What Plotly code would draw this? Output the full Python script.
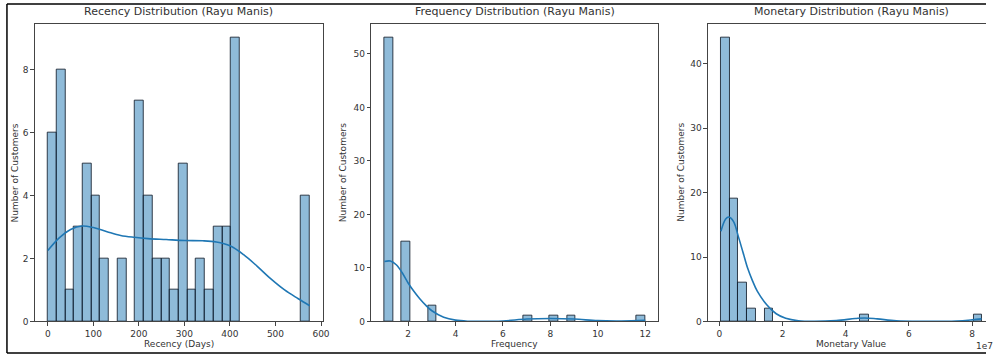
import numpy as np
import plotly.graph_objects as go

# ---------------- data ----------------
recency_range = (0, 575)
recency_counts = [6, 8, 1, 3, 5, 4, 2, 0, 2, 0, 7, 4, 2, 2, 1, 5, 1, 2, 1, 3, 3, 9,
                  0, 0, 0, 0, 0, 0, 0, 4]
recency_kde_x = [0, 25, 50, 75, 100, 130, 160, 190, 220, 260, 300, 340, 370, 400,
                 430, 460, 490, 520, 550, 575]
recency_kde_y = [2.25, 2.65, 2.92, 3.03, 2.98, 2.85, 2.73, 2.67, 2.63, 2.6, 2.57, 2.56,
                 2.52, 2.4, 2.12, 1.75, 1.35, 1.0, 0.72, 0.5]

frequency_range = (1, 12)
frequency_counts = [53, 0, 15, 0, 0, 3, 0, 0, 0, 0, 0, 0, 0, 0, 0, 0, 1, 0, 0, 1,
                    0, 1, 0, 0, 0, 0, 0, 0, 0, 1]
frequency_kde_x = [1, 1.25, 1.5, 1.75, 2, 2.25, 2.5, 2.75, 3, 3.5, 4, 4.5, 5, 6, 7,
                   8, 9, 10, 11, 12]
frequency_kde_y = [11.2, 11.3, 10.6, 9.1, 7.2, 5.6, 4.2, 3.0, 2.0, 0.8, 0.25, 0.05,
                   0.02, 0.1, 0.45, 0.55, 0.45, 0.15, 0.1, 0.2]

monetary_range = (0.05, 8.32)
monetary_counts = [44, 19, 6, 2, 0, 2, 0, 0, 0, 0, 0, 0, 0, 0, 0, 0, 1, 0, 0, 0,
                   0, 0, 0, 0, 0, 0, 0, 0, 0, 1]
monetary_kde_x = [0.05, 0.2, 0.3, 0.45, 0.6, 0.75, 0.9, 1.05, 1.2, 1.5, 1.8, 2.1, 2.5,
                  3, 3.7, 4.3, 4.6, 5, 5.6, 6.5, 7.5, 8, 8.3]
monetary_kde_y = [14.0, 15.9, 16.2, 15.5, 13.2, 10.7, 8.2, 6.3, 4.7, 2.6, 1.2, 0.5,
                  0.12, 0.03, 0.15, 0.45, 0.55, 0.4, 0.1, 0.03, 0.08, 0.25, 0.4]

titles = ["Recency Distribution (Rayu Manis)", "Frequency Distribution (Rayu Manis)",
          "Monetary Distribution (Rayu Manis)"]
xlabels = ["Recency (Days)", "Frequency", "Monetary Value"]
ylabel = "Number of Customers"

# ---------------- layout geometry ----------------
W, H = 993, 360
panels_px = [(35, 325), (374, 663), (713, 993)]
top_px, bot_px = 24, 326
ydom = [1 - bot_px / H, 1 - top_px / H]

BAR_FILL = "rgba(31,119,180,0.5)"
BAR_EDGE = "rgba(20,30,45,0.85)"
LINE_C = "#1f77b4"
FONT = "DejaVu Sans"
TXT = "#333333"
AX = "#444444"

fig = go.Figure()

datasets = [
    (recency_range, recency_counts, recency_kde_x, recency_kde_y),
    (frequency_range, frequency_counts, frequency_kde_x, frequency_kde_y),
    (monetary_range, monetary_counts, monetary_kde_x, monetary_kde_y),
]

for i, (rng, counts, kx, ky) in enumerate(datasets):
    edges = np.linspace(rng[0], rng[1], len(counts) + 1)
    centers = (edges[:-1] + edges[1:]) / 2
    width = edges[1] - edges[0]
    xa = "x" if i == 0 else f"x{i+1}"
    ya = "y" if i == 0 else f"y{i+1}"
    mask = [c > 0 for c in counts]
    fig.add_trace(go.Bar(
        x=[c for c, m in zip(centers, mask) if m],
        y=[c for c, m in zip(counts, mask) if m],
        width=width, xaxis=xa, yaxis=ya,
        marker=dict(color=BAR_FILL, line=dict(color=BAR_EDGE, width=1)),
        showlegend=False, hoverinfo="skip"))
    fig.add_trace(go.Scatter(
        x=kx, y=ky, mode="lines", line=dict(color=LINE_C, width=1.6, shape="spline"),
        xaxis=xa, yaxis=ya, showlegend=False, hoverinfo="skip"))

x_ranges = [[-28.75, 603.75], [0.45, 12.55], [-0.36, 8.44]]
x_ticks = [list(range(0, 601, 100)), list(range(2, 13, 2)), list(range(0, 9, 2))]
y_ranges = [[0, 9.45], [0, 55.65], [0, 46.2]]
y_ticks = [[0, 2, 4, 6, 8], [0, 10, 20, 30, 40, 50], [0, 10, 20, 30, 40]]

layout = dict(
    width=W, height=H, margin=dict(l=0, r=0, t=0, b=0),
    paper_bgcolor="white", plot_bgcolor="white", bargap=0,
    font=dict(family=FONT, size=9, color=TXT),
)
annotations = []
for i, (l, r) in enumerate(panels_px):
    sfx = "" if i == 0 else str(i + 1)
    common = dict(showgrid=False, zeroline=False, showline=True, linecolor=AX, linewidth=1,
                  ticks="outside", ticklen=3.5, tickwidth=1, tickcolor=AX,
                  tickfont=dict(family=FONT, size=9, color=TXT))
    layout["xaxis" + sfx] = dict(domain=[l / W, r / W], range=x_ranges[i], tickvals=x_ticks[i],
                                 anchor="y" + sfx, mirror=True, **common)
    layout["yaxis" + sfx] = dict(domain=ydom, range=y_ranges[i], tickvals=y_ticks[i],
                                 anchor="x" + sfx, mirror=(i < 2), **common)
    cx = ((l + r) / 2) / W if i < 2 else ((l + 1002) / 2) / W
    annotations.append(dict(text=titles[i], x=cx, y=1 - 12 / H, xref="paper", yref="paper",
                            showarrow=False, xanchor="center", yanchor="middle",
                            font=dict(family=FONT, size=11, color=TXT)))
    annotations.append(dict(text=xlabels[i], x=cx, y=1 - 349 / H, xref="paper", yref="paper",
                            showarrow=False, xanchor="center", yanchor="middle",
                            font=dict(family=FONT, size=9, color=TXT)))
    ylx = [15, 345, 685][i]
    annotations.append(dict(text=ylabel, x=ylx / W, y=1 - 175 / H, xref="paper", yref="paper",
                            showarrow=False, textangle=-90, xanchor="center", yanchor="middle",
                            font=dict(family=FONT, size=9, color=TXT)))

annotations.append(dict(text="1e7", x=1.0, y=1 - 351 / H, xref="paper", yref="paper",
                        showarrow=False, xanchor="left", yanchor="middle", xshift=-12,
                        font=dict(family=FONT, size=9, color=TXT)))
layout["annotations"] = annotations

# outer screenshot frame
layout["shapes"] = [
    dict(type="line", xref="paper", yref="paper", x0=7 / W, x1=1, y0=1 - 4 / H, y1=1 - 4 / H,
         line=dict(color="black", width=1.5)),
    dict(type="line", xref="paper", yref="paper", x0=7 / W, x1=7 / W, y0=1 - 4 / H, y1=1 - 358 / H,
         line=dict(color="black", width=1.5)),
    dict(type="line", xref="paper", yref="paper", x0=7 / W, x1=1, y0=1 - 358 / H, y1=1 - 358 / H,
         line=dict(color="black", width=1.5)),
]

fig.update_layout(**layout)
fig.write_html("out.html")
